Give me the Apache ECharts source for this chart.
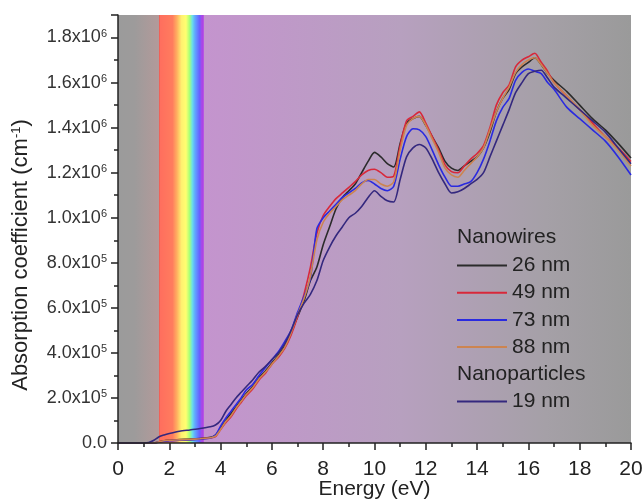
<!DOCTYPE html>
<html>
<head>
<meta charset="utf-8">
<script src="https://cdn.jsdelivr.net/npm/echarts@6/dist/echarts.min.js"></script>
<style>
  html, body { margin: 0; padding: 0; background: #fff; }
  #chart { width: 644px; height: 502px; }
</style>
</head>
<body>
<div id="chart"></div>
<script>
// energy grid (eV), shared by all curves
var energy = [0, 0.5, 1.0, 1.2, 1.4, 1.6, 1.8, 2.0, 2.4, 2.8, 3.2, 3.6, 3.8, 4.0, 4.2, 4.4, 4.6, 4.8, 5.0,
  5.25, 5.5, 5.75, 6.0, 6.25, 6.5, 6.75, 7.0, 7.25, 7.5, 7.75, 8.0,
  8.25, 8.5, 8.75, 9.0, 9.25, 9.5, 9.75, 10.0, 10.25, 10.5, 10.75, 11.0,
  11.25, 11.5, 11.75, 12.0, 12.25, 12.5, 12.75, 13.0, 13.25, 13.5, 13.75, 14.0,
  14.25, 14.5, 14.75, 15.0, 15.25, 15.5, 15.75, 16.0, 16.25, 16.5, 16.75, 17.0,
  17.5, 18.0, 18.5, 19.0, 19.5, 20.0];

// absorption coefficient in units of 10^6 cm^-1
var nw26 = [0, 0, 0, 0, 0, 0.005, 0.01, 0.012, 0.015, 0.017, 0.02, 0.025, 0.035, 0.065, 0.1, 0.13, 0.16, 0.19, 0.22,
  0.25, 0.29, 0.32, 0.355, 0.39, 0.43, 0.49, 0.56, 0.63, 0.72, 0.78, 0.88,
  0.96, 1.04, 1.09, 1.12, 1.15, 1.2, 1.25, 1.29, 1.27, 1.24, 1.225, 1.33,
  1.42, 1.44, 1.45, 1.41, 1.36, 1.31, 1.25, 1.22, 1.21, 1.23, 1.25, 1.27,
  1.31, 1.38, 1.47, 1.53, 1.57, 1.64, 1.67, 1.69, 1.71, 1.68, 1.64, 1.61,
  1.56, 1.5, 1.44, 1.39, 1.33, 1.265];
var nw49 = [0, 0, 0, 0, 0, 0.005, 0.01, 0.012, 0.014, 0.015, 0.018, 0.022, 0.028, 0.06, 0.09, 0.115, 0.15, 0.18, 0.21,
  0.24, 0.28, 0.31, 0.35, 0.38, 0.42, 0.48, 0.56, 0.66, 0.78, 0.93, 1.01,
  1.05, 1.085, 1.11, 1.135, 1.16, 1.19, 1.21, 1.215, 1.2, 1.18, 1.185, 1.32,
  1.43, 1.45, 1.47, 1.42, 1.36, 1.3, 1.235, 1.205, 1.2, 1.23, 1.26, 1.285,
  1.32, 1.4, 1.5, 1.555, 1.59, 1.67, 1.7, 1.715, 1.73, 1.69, 1.65, 1.6,
  1.54, 1.48, 1.42, 1.36, 1.31, 1.25];
var nw73 = [0, 0, 0, 0, 0, 0.004, 0.008, 0.01, 0.012, 0.014, 0.017, 0.022, 0.035, 0.075, 0.11, 0.14, 0.17, 0.2, 0.235,
  0.26, 0.3, 0.335, 0.37, 0.405, 0.45, 0.5, 0.58, 0.65, 0.73, 0.95, 1.0,
  1.03, 1.06, 1.09, 1.11, 1.13, 1.155, 1.165, 1.15, 1.13, 1.12, 1.14, 1.26,
  1.36, 1.395, 1.39, 1.36, 1.3, 1.235, 1.18, 1.14, 1.14, 1.15, 1.16, 1.2,
  1.26, 1.34, 1.43, 1.49, 1.53, 1.61, 1.645, 1.66, 1.65, 1.64, 1.6, 1.57,
  1.49, 1.44, 1.39, 1.34, 1.27, 1.19];
var nw88 = [0, 0, 0, 0, 0, 0.005, 0.01, 0.012, 0.014, 0.016, 0.019, 0.023, 0.03, 0.06, 0.095, 0.12, 0.155, 0.185, 0.215,
  0.245, 0.285, 0.315, 0.35, 0.385, 0.425, 0.49, 0.57, 0.64, 0.74, 0.9, 0.98,
  1.02, 1.05, 1.08, 1.1, 1.12, 1.15, 1.17, 1.17, 1.15, 1.14, 1.16, 1.3,
  1.41, 1.44, 1.45, 1.41, 1.35, 1.29, 1.22, 1.19, 1.18, 1.21, 1.24, 1.27,
  1.31, 1.39, 1.47, 1.53, 1.58, 1.645, 1.68, 1.7, 1.71, 1.68, 1.64, 1.6,
  1.54, 1.48, 1.41, 1.36, 1.3, 1.23];
var np19 = [0, 0, 0, 0.002, 0.012, 0.028, 0.036, 0.042, 0.052, 0.058, 0.064, 0.072, 0.08, 0.1, 0.14, 0.17, 0.2, 0.225, 0.25,
  0.28, 0.315, 0.34, 0.37, 0.4, 0.44, 0.5, 0.57, 0.62, 0.66, 0.72, 0.81,
  0.87, 0.92, 0.96, 1.0, 1.02, 1.05, 1.09, 1.12, 1.095, 1.075, 1.07, 1.17,
  1.27, 1.31, 1.325, 1.31, 1.26, 1.2, 1.15, 1.11, 1.115, 1.13, 1.15, 1.17,
  1.2, 1.27, 1.34, 1.41, 1.48, 1.555, 1.6, 1.64, 1.65, 1.655, 1.62, 1.58,
  1.53, 1.48, 1.43, 1.38, 1.31, 1.24];

var seriesNames = ['26 nm', '49 nm', '73 nm', '88 nm', '19 nm'];
var seriesColors = ['#2b2b2b', '#d8283a', '#2a2ae0', '#cc8450', '#34287e'];
var seriesValues = [nw26, nw49, nw73, nw88, np19];

// spectral bands behind the curves (eV)
var irBand = [0, 1.6];
var visBand = [1.6, 3.35];
var uvBand = [3.35, 20];

var font = 'Liberation Sans, Arial, sans-serif';

function pairs(ys) {
  return energy.map(function (x, i) { return [x, ys[i]]; });
}

function grad(stops) {
  return { type: 'linear', x: 0, y: 0, x2: 1, y2: 0, colorStops: stops };
}

var lineSeries = seriesNames.map(function (name, i) {
  return {
    name: name,
    type: 'line',
    data: pairs(seriesValues[i]),
    symbol: 'none',
    smooth: 0.25,
    z: 3,
    lineStyle: { color: seriesColors[i], width: 1.6 },
    itemStyle: { color: seriesColors[i] }
  };
});

var bgSeries = {
  type: 'line',
  data: [[0, 0]],
  symbol: 'none',
  silent: true,
  z: 1,
  lineStyle: { opacity: 0 },
  markArea: {
    silent: true,
    data: [
      [{ xAxis: irBand[0], itemStyle: { color: grad([
        { offset: 0, color: '#9b9b9b' }, { offset: 0.4, color: '#9d9b9b' }, { offset: 1, color: '#b39a9a' }]) } },
       { xAxis: irBand[1] }],
      [{ xAxis: visBand[0], itemStyle: { color: grad([
        { offset: 0, color: '#e8504a' }, { offset: 0.03, color: '#ff6f5e' }, { offset: 0.3, color: '#ff7c5e' },
        { offset: 0.4, color: '#ffb060' }, { offset: 0.5, color: '#fff070' }, { offset: 0.6, color: '#ffff70' },
        { offset: 0.68, color: '#a8ff78' }, { offset: 0.74, color: '#6ae0e8' }, { offset: 0.8, color: '#60a8ff' },
        { offset: 0.9, color: '#6a60ff' }, { offset: 0.95, color: '#a848e8' }, { offset: 1, color: '#b040e0' }]) } },
       { xAxis: visBand[1] }],
      [{ xAxis: uvBand[0], itemStyle: { color: grad([
        { offset: 0, color: '#c494ce' }, { offset: 0.46, color: '#b7a0bf' }, { offset: 0.8, color: '#a5a0a7' },
        { offset: 1, color: '#9a9a9a' }]) } },
       { xAxis: uvBand[1] }]
    ]
  }
};

var legendText = { fontFamily: font, fontSize: 21, color: '#222', lineHeight: 21 };

var chart = echarts.init(document.getElementById('chart'));
chart.setOption({
  animation: false,
  backgroundColor: '#fff',
  grid: { left: 118, right: 13, top: 15, bottom: 59, outerBoundsMode: 'none', containLabel: false },
  xAxis: {
    type: 'value', min: 0, max: 20, interval: 2, z: 10,
    name: 'Energy (eV)', nameLocation: 'middle', nameGap: 36, nameMoveOverlap: false,
    nameTextStyle: { fontFamily: font, fontSize: 21, color: '#222' },
    axisLine: { onZero: false, lineStyle: { color: '#222', width: 1.5 } },
    axisTick: { length: 7, lineStyle: { color: '#222', width: 1.5 } },
    minorTick: { show: true, splitNumber: 2, length: 4, lineStyle: { color: '#222', width: 1.5 } },
    axisLabel: { fontFamily: font, fontSize: 21, color: '#222', margin: 16 },
    splitLine: { show: false }
  },
  yAxis: {
    type: 'value', min: 0, max: 1.9, interval: 0.2, z: 10,
    name: 'Absorption coefficient (cm{sup|-1})', nameLocation: 'middle', nameGap: 86, nameRotate: 90,
    nameMoveOverlap: false,
    nameTextStyle: { fontFamily: font, fontSize: 22, color: '#222', padding: [0, 52, 0, 0],
      rich: { sup: { fontFamily: font, fontSize: 13, color: '#222', verticalAlign: 'top' } } },
    axisLine: { onZero: false, lineStyle: { color: '#222', width: 1.5 } },
    axisTick: { length: 7, lineStyle: { color: '#222', width: 1.5 } },
    minorTick: { show: true, splitNumber: 2, length: 4, lineStyle: { color: '#222', width: 1.5 } },
    axisLabel: {
      fontFamily: font, fontSize: 18, color: '#333', margin: 11,
      formatter: function (v) {
        if (Math.abs(v) < 1e-9) return '0.0';
        if (v > 1.85) return '';
        if (v >= 0.999) return v.toFixed(1) + 'x10{sup|6}';
        return (v * 10).toFixed(1) + 'x10{sup|5}';
      },
      rich: { sup: { fontFamily: font, fontSize: 11, color: '#333', verticalAlign: 'top', lineHeight: 11 } }
    },
    splitLine: { show: false }
  },
  legend: [
    {
      data: ['26 nm', '49 nm', '73 nm', '88 nm'],
      orient: 'vertical', left: 457, top: 255, padding: 0, itemGap: 6.2,
      icon: 'rect', itemWidth: 50, itemHeight: 2,
      textStyle: legendText
    },
    {
      data: ['19 nm'],
      orient: 'vertical', left: 457, top: 391, padding: 0,
      icon: 'rect', itemWidth: 50, itemHeight: 2,
      textStyle: legendText
    }
  ],
  graphic: [
    { type: 'text', left: 457, top: 227, z: 20,
      style: { text: 'Nanowires', font: '21px ' + font, fill: '#222' } },
    { type: 'text', left: 457, top: 364, z: 20,
      style: { text: 'Nanoparticles', font: '21px ' + font, fill: '#222' } }
  ],
  series: [bgSeries].concat(lineSeries)
});
</script>
</body>
</html>
